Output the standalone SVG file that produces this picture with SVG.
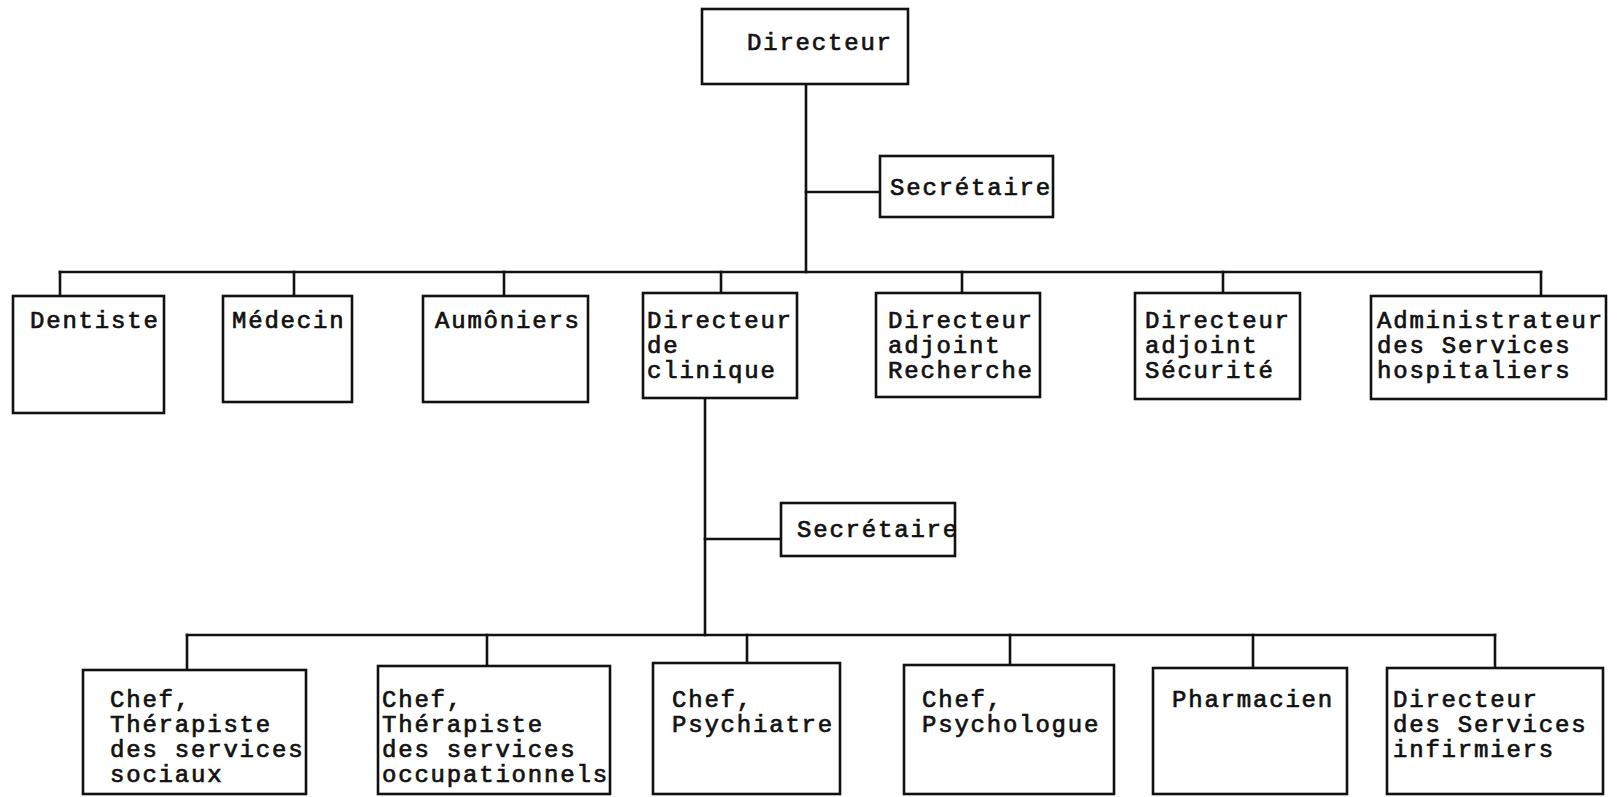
<svg xmlns="http://www.w3.org/2000/svg" width="1619" height="797" viewBox="0 0 1619 797">
  <style>
    .box { fill: #ffffff; stroke: #111111; stroke-width: 2.6; }
    .link { fill: none; stroke: #111111; stroke-width: 2.6; stroke-linecap: square; }
    .lbl { font-family: "Liberation Mono", "Courier New", monospace; font-size: 24px; letter-spacing: 1.8px; fill: #111111; stroke: #111111; stroke-width: 0.7; }
  </style>
  <rect x="0" y="0" width="1619" height="797" fill="#ffffff"/>

  <!-- connectors -->
  <g id="connectors">
    <!-- top trunk and secretary branch -->
    <line class="link" x1="806" y1="84" x2="806" y2="272"/>
    <line class="link" x1="806" y1="192" x2="880" y2="192"/>
    <!-- first-level bus and drops -->
    <line class="link" x1="60" y1="272" x2="1541" y2="272"/>
    <line class="link" x1="60" y1="272" x2="60" y2="296"/>
    <line class="link" x1="294" y1="272" x2="294" y2="296"/>
    <line class="link" x1="504" y1="272" x2="504" y2="296"/>
    <line class="link" x1="721" y1="272" x2="721" y2="293"/>
    <line class="link" x1="962" y1="272" x2="962" y2="293"/>
    <line class="link" x1="1223" y1="272" x2="1223" y2="293"/>
    <line class="link" x1="1541" y1="272" x2="1541" y2="296"/>
    <!-- clinic trunk and secretary branch -->
    <line class="link" x1="705" y1="398" x2="705" y2="635"/>
    <line class="link" x1="705" y1="539" x2="781" y2="539"/>
    <!-- second-level bus and drops -->
    <line class="link" x1="187" y1="635" x2="1495" y2="635"/>
    <line class="link" x1="187" y1="635" x2="187" y2="670"/>
    <line class="link" x1="487" y1="635" x2="487" y2="666"/>
    <line class="link" x1="747" y1="635" x2="747" y2="663"/>
    <line class="link" x1="1010" y1="635" x2="1010" y2="665"/>
    <line class="link" x1="1253" y1="635" x2="1253" y2="668"/>
    <line class="link" x1="1495" y1="635" x2="1495" y2="668"/>
  </g>

  <g id="directeur">
    <rect class="box" x="702" y="9" width="206" height="75"/>
    <text class="lbl" x="747" y="50">Directeur</text>
  </g>
  <g id="secretaire-1">
    <rect class="box" x="880" y="156" width="173" height="61"/>
    <text class="lbl" x="890" y="195">Secrétaire</text>
  </g>

  <g id="dentiste">
    <rect class="box" x="13" y="296" width="151" height="117"/>
    <text class="lbl" x="30" y="328">Dentiste</text>
  </g>
  <g id="medecin">
    <rect class="box" x="223" y="296" width="129" height="106"/>
    <text class="lbl" x="232" y="328">Médecin</text>
  </g>
  <g id="aumoniers">
    <rect class="box" x="423" y="296" width="165" height="106"/>
    <text class="lbl" x="435" y="328">Aumôniers</text>
  </g>
  <g id="directeur-clinique">
    <rect class="box" x="643" y="293" width="154" height="105"/>
    <text class="lbl" x="647" y="328">Directeur</text>
    <text class="lbl" x="647" y="353">de</text>
    <text class="lbl" x="647" y="378">clinique</text>
  </g>
  <g id="adjoint-recherche">
    <rect class="box" x="876" y="293" width="164" height="104"/>
    <text class="lbl" x="888" y="328">Directeur</text>
    <text class="lbl" x="888" y="353">adjoint</text>
    <text class="lbl" x="888" y="378">Recherche</text>
  </g>
  <g id="adjoint-securite">
    <rect class="box" x="1135" y="293" width="165" height="106"/>
    <text class="lbl" x="1145" y="328">Directeur</text>
    <text class="lbl" x="1145" y="353">adjoint</text>
    <text class="lbl" x="1145" y="378">Sécurité</text>
  </g>
  <g id="administrateur">
    <rect class="box" x="1371" y="296" width="235" height="103"/>
    <text class="lbl" x="1377" y="328">Administrateur</text>
    <text class="lbl" x="1377" y="353">des Services</text>
    <text class="lbl" x="1377" y="378">hospitaliers</text>
  </g>

  <g id="secretaire-2">
    <rect class="box" x="781" y="503" width="174" height="53"/>
    <text class="lbl" x="797" y="537">Secrétaire</text>
  </g>

  <g id="chef-sociaux">
    <rect class="box" x="83" y="670" width="223" height="124"/>
    <text class="lbl" x="110" y="707">Chef,</text>
    <text class="lbl" x="110" y="732">Thérapiste</text>
    <text class="lbl" x="110" y="757">des services</text>
    <text class="lbl" x="110" y="782">sociaux</text>
  </g>
  <g id="chef-occupationnels">
    <rect class="box" x="378" y="666" width="232" height="128"/>
    <text class="lbl" x="382" y="707">Chef,</text>
    <text class="lbl" x="382" y="732">Thérapiste</text>
    <text class="lbl" x="382" y="757">des services</text>
    <text class="lbl" x="382" y="782">occupationnels</text>
  </g>
  <g id="chef-psychiatre">
    <rect class="box" x="653" y="663" width="187" height="131"/>
    <text class="lbl" x="672" y="707">Chef,</text>
    <text class="lbl" x="672" y="732">Psychiatre</text>
  </g>
  <g id="chef-psychologue">
    <rect class="box" x="904" y="665" width="210" height="129"/>
    <text class="lbl" x="922" y="707">Chef,</text>
    <text class="lbl" x="922" y="732">Psychologue</text>
  </g>
  <g id="pharmacien">
    <rect class="box" x="1153" y="668" width="194" height="126"/>
    <text class="lbl" x="1172" y="707">Pharmacien</text>
  </g>
  <g id="directeur-infirmiers">
    <rect class="box" x="1387" y="668" width="216" height="126"/>
    <text class="lbl" x="1393" y="707">Directeur</text>
    <text class="lbl" x="1393" y="732">des Services</text>
    <text class="lbl" x="1393" y="757">infirmiers</text>
  </g>
</svg>
